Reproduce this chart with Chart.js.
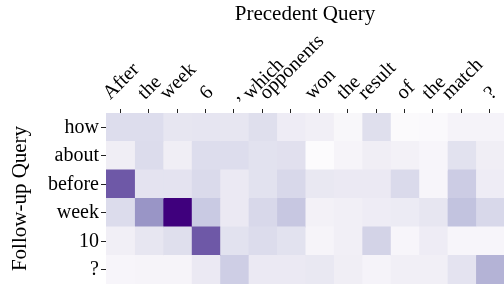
<!DOCTYPE html>
<html>
<head>
<meta charset="utf-8">
<script src="https://cdn.jsdelivr.net/npm/chart.js@4.4.1/dist/chart.umd.min.js"></script>
<style>
  html, body { margin: 0; padding: 0; background: #fff; overflow: hidden; }
  #c { display: block; }
</style>
</head>
<body>
<canvas id="c" width="504" height="284"></canvas>
<script>
/* ===== data ===== */
const COLS = ["After", "the", "week", "6", ",", "which", "opponents", "won", "the", "result", "of", "the", "match", "?"];
const ROWS = ["how", "about", "before", "week", "10", "?"];

// attention weight per row (0..1), one value per column
const ROW_HOW    = [0.23, 0.23, 0.17, 0.18, 0.17, 0.22, 0.13, 0.11, 0.04, 0.22, 0.01, 0.02, 0.07, 0.07];
const ROW_ABOUT  = [0.12, 0.24, 0.12, 0.23, 0.23, 0.20, 0.21, 0.00, 0.06, 0.12, 0.09, 0.05, 0.20, 0.12];
const ROW_BEFORE = [0.73, 0.19, 0.19, 0.25, 0.15, 0.20, 0.26, 0.16, 0.15, 0.15, 0.25, 0.05, 0.31, 0.13];
const ROW_WEEK   = [0.24, 0.52, 1.00, 0.32, 0.15, 0.26, 0.33, 0.09, 0.11, 0.13, 0.14, 0.17, 0.35, 0.26];
const ROW_10     = [0.11, 0.17, 0.22, 0.73, 0.20, 0.24, 0.20, 0.06, 0.11, 0.28, 0.05, 0.13, 0.05, 0.05];
const ROW_QMARK  = [0.05, 0.06, 0.06, 0.15, 0.30, 0.15, 0.15, 0.16, 0.12, 0.07, 0.11, 0.11, 0.19, 0.41];
const MATRIX = [ROW_HOW, ROW_ABOUT, ROW_BEFORE, ROW_WEEK, ROW_10, ROW_QMARK];

/* ===== Purples colormap ===== */
const PURPLES = [
  [252, 251, 253], [239, 237, 245], [218, 218, 235], [188, 189, 220], [158, 154, 200],
  [128, 125, 186], [106, 81, 163], [84, 39, 143], [63, 0, 125]
];
function purple(v) {
  const t = Math.max(0, Math.min(1, v)) * (PURPLES.length - 1);
  const i = Math.min(PURPLES.length - 2, Math.floor(t));
  const f = t - i;
  const a = PURPLES[i], b = PURPLES[i + 1];
  const c = a.map((x, k) => Math.round(x + (b[k] - x) * f));
  return `rgb(${c[0]},${c[1]},${c[2]})`;
}

const SERIF = '"Liberation Serif", "Times New Roman", serif';

// 上側の斜めラベル（matplotlib風に中心揃え）
const topLabels = {
  id: 'topLabels',
  afterDraw(chart) {
    const { ctx, chartArea } = chart;
    const xs = chart.scales.x;
    const bottom = chartArea.top - 10;
    ctx.save();
    ctx.font = `20px ${SERIF}`;
    ctx.fillStyle = '#000';
    ctx.textAlign = 'left';
    ctx.textBaseline = 'alphabetic';
    COLS.forEach((t, i) => {
      const x = xs.getPixelForValue(i + 0.5);
      const m = ctx.measureText(t);
      const w = m.width;
      const asc = m.fontBoundingBoxAscent, desc = m.fontBoundingBoxDescent;
      const h = asc + desc;
      const B = (w + h) * Math.SQRT1_2;
      ctx.save();
      ctx.translate(x, bottom - B / 2);
      ctx.rotate(-Math.PI / 4);
      ctx.fillText(t, -w / 2, h / 2 - desc);
      ctx.restore();
    });
    ctx.restore();
  }
};

const datasets = COLS.map((col, j) => ({
  label: col,
  data: ROWS.map(() => 1),
  backgroundColor: MATRIX.map(row => purple(row[j])),
  borderWidth: 0,
  barPercentage: 1.0,
  categoryPercentage: 1.0,
  inflateAmount: 0.5
}));

new Chart(document.getElementById('c').getContext('2d'), {
  type: 'bar',
  data: { labels: ROWS, datasets },
  options: {
    indexAxis: 'y',
    responsive: false,
    animation: false,
    layout: { padding: { left: 0, top: 0, right: -3, bottom: 0 } },
    scales: {
      x: {
        type: 'linear',
        position: 'top',
        stacked: true,
        min: 0,
        max: COLS.length,
        afterBuildTicks: s => { s.ticks = COLS.map((_, i) => ({ value: i + 0.5 })); },
        afterFit: s => { s.height = 113; s.paddingLeft = 0; s.paddingRight = 0; },
        ticks: { display: false },
        grid: { drawOnChartArea: false, drawTicks: true, tickLength: 4, tickColor: '#222', lineWidth: 1 },
        border: { display: true, color: '#222', width: 1 },
        title: {
          display: true, text: 'Precedent Query', color: '#000',
          font: { family: SERIF, size: 21 }, padding: { top: 2, bottom: 0 }
        }
      },
      y: {
        position: 'left',
        stacked: true,
        afterFit: s => { s.width = 106; s.paddingTop = 0; s.paddingBottom = 0; },
        ticks: { color: '#000', font: { family: SERIF, size: 20 }, padding: 2, autoSkip: false },
        grid: { offset: false, drawOnChartArea: false, drawTicks: true, tickLength: 5, tickColor: '#222', lineWidth: 1 },
        border: { display: true, color: '#222', width: 1 },
        title: {
          display: true, text: 'Follow-up Query', color: '#000',
          font: { family: SERIF, size: 21 }, padding: { top: 8, bottom: 0 }
        }
      }
    },
    plugins: {
      legend: { display: false },
      tooltip: { enabled: false }
    }
  },
  plugins: [topLabels]
});
</script>
</body>
</html>
